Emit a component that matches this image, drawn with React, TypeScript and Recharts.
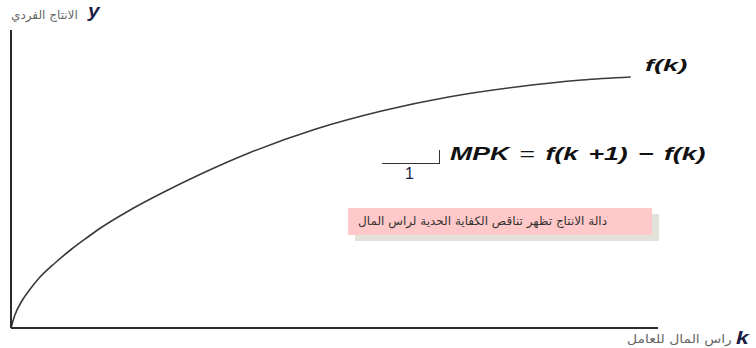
import React from 'react'
import { LineChart, Line, XAxis, YAxis } from 'recharts'

// Diminishing returns production function y = f(k)
const capitalPerWorker = [0, 0.06, 0.18, 0.31, 0.44, 0.71, 0.98, 1.24, 1.42, 1.95, 2.5, 3.03, 3.84, 4.92, 5.98, 7.06, 8.15, 9.21, 10]
const outputPerWorker = [0, 0.5, 1.1, 1.56, 1.96, 2.6, 3.16, 3.64, 3.96, 4.76, 5.48, 6.12, 7.0, 7.96, 8.68, 9.24, 9.64, 9.92, 10.04]

const data = capitalPerWorker.map((k, i) => ({ k, y: outputPerWorker[i] }))

const AXIS = '#2b2b2b'
const INK = '#1c1c44'
const arabic = '"DejaVu Sans", "Noto Sans", sans-serif'
const latin = '"Liberation Sans", Arial, sans-serif'

const stretch = (s: number): React.CSSProperties => ({
  display: 'inline-block',
  transform: `scaleX(${s})`,
  transformOrigin: 'left center',
  whiteSpace: 'nowrap',
})

export default function App() {
  return (
    <div style={{ position: 'absolute', left: 0, top: 0, width: 756, height: 348, background: '#fff' }}>
      <LineChart width={756} height={348} data={data} margin={{ top: 30, right: 98, bottom: 19, left: 10 }}>
        <XAxis
          dataKey="k"
          type="number"
          domain={[0, 10.44]}
          tick={false}
          tickLine={false}
          height={1}
          axisLine={{ stroke: AXIS, strokeWidth: 2 }}
        />
        <YAxis
          type="number"
          domain={[0, 11.92]}
          tick={false}
          tickLine={false}
          width={1}
          axisLine={{ stroke: AXIS, strokeWidth: 2 }}
        />
        <Line
          type="monotone"
          dataKey="y"
          stroke="#3a3a3a"
          strokeWidth={1.6}
          dot={false}
          isAnimationActive={false}
        />
      </LineChart>

      {/* y axis label */}
      <div style={{ position: 'absolute', left: 11, top: 8, fontFamily: arabic, fontSize: 12, color: '#666', direction: 'rtl' }}>
        الانتاج الفردي
      </div>
      <div style={{ position: 'absolute', left: 88, top: 1, fontFamily: latin, fontSize: 18, fontWeight: 'bold', fontStyle: 'italic', color: INK }}>
        <span style={stretch(1.15)}>y</span>
      </div>

      {/* x axis label */}
      <div style={{ position: 'absolute', left: 627, top: 332, fontFamily: arabic, fontSize: 12, color: '#666' }}>
        <span style={{ ...stretch(1.16), direction: 'rtl' }}>راس المال للعامل</span>
      </div>
      <div style={{ position: 'absolute', left: 736, top: 327, fontFamily: latin, fontSize: 19, fontWeight: 'bold', fontStyle: 'italic', color: INK }}>
        <span style={stretch(1.2)}>k</span>
      </div>

      {/* curve label */}
      <div style={{ position: 'absolute', left: 645, top: 57, fontFamily: latin, fontSize: 16, fontWeight: 'bold', fontStyle: 'italic', color: '#111' }}>
        <span style={stretch(1.7)}>f(k)</span>
      </div>

      {/* MPK step */}
      <div style={{ position: 'absolute', left: 382, top: 163, width: 58, height: 0, borderTop: '1.5px solid #333' }} />
      <div style={{ position: 'absolute', left: 439, top: 150, width: 0, height: 14, borderLeft: '1.5px solid #333' }} />
      <div style={{ position: 'absolute', left: 405, top: 165, fontFamily: latin, fontSize: 16, color: INK }}>1</div>
      <div style={{ position: 'absolute', left: 450, top: 144, fontFamily: latin, fontSize: 18, fontWeight: 'bold', fontStyle: 'italic', color: '#111' }}>
        <span style={{ ...stretch(1.48), wordSpacing: 2 }}>
          MPK <span style={{ fontWeight: 'normal', fontStyle: 'normal' }}>=</span> f(k +1) − f(k)
        </span>
      </div>

      {/* note box */}
      <div style={{ position: 'absolute', left: 355, top: 214, width: 304, height: 27, background: '#e2e2da' }} />
      <div
        style={{
          position: 'absolute',
          left: 348,
          top: 208,
          width: 304,
          height: 27,
          background: '#ffc9c9',
          fontFamily: arabic,
          fontSize: 12,
          color: '#333',
          direction: 'rtl',
          textAlign: 'right',
          lineHeight: '27px',
          boxSizing: 'border-box',
          paddingRight: 45,
          whiteSpace: 'nowrap',
        }}
      >
        دالة الانتاج تظهر تناقص الكفاية الحدية لراس المال
      </div>
    </div>
  )
}
